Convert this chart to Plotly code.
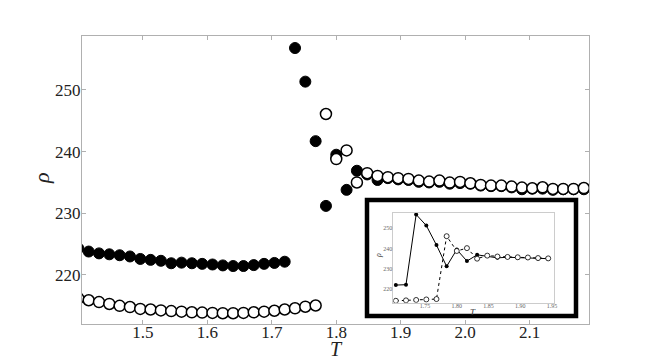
import plotly.graph_objects as go

# Temperature grid
T = [1.400, 1.416, 1.432, 1.448, 1.464, 1.480, 1.496, 1.512, 1.528, 1.544,
     1.560, 1.576, 1.592, 1.608, 1.624, 1.640, 1.656, 1.672, 1.688, 1.704,
     1.720, 1.736, 1.752, 1.768, 1.784, 1.800, 1.816, 1.832, 1.848, 1.864,
     1.880, 1.896, 1.912, 1.928, 1.944, 1.960, 1.976, 1.992, 2.008, 2.024,
     2.040, 2.056, 2.072, 2.088, 2.104, 2.120, 2.136, 2.152, 2.168, 2.184]

rho_filled = [224.3, 223.8, 223.5, 223.35, 223.2, 223.0, 222.6, 222.45, 222.3, 221.9,
              222.0, 221.9, 221.8, 221.7, 221.55, 221.45, 221.45, 221.6, 221.8, 221.95,
              222.15, 256.8, 251.35, 241.7, 231.2, 239.5, 233.8, 236.9, 236.3, 235.4,
              235.7, 235.5, 235.4, 235.1, 235.0, 235.1, 234.8, 234.9, 234.8, 234.5,
              234.4, 234.4, 234.2, 233.9, 234.0, 234.0, 233.8, 233.9, 233.9, 233.9]

rho_open = [216.2, 215.9, 215.6, 215.3, 215.0, 214.8, 214.5, 214.4, 214.25, 214.15,
            214.05, 213.95, 213.9, 213.85, 213.8, 213.8, 213.85, 213.95, 214.05, 214.2,
            214.4, 214.6, 214.85, 215.05, 246.1, 238.8, 240.2, 235.0, 236.5, 236.06,
            235.85, 235.69, 235.58, 235.3, 235.14, 235.3, 234.98, 235.09, 234.87, 234.6,
            234.49, 234.49, 234.33, 234.17, 234.06, 234.22, 233.95, 233.95, 233.95, 234.1]

main_xticks = [1.5, 1.6, 1.7, 1.8, 1.9, 2.0, 2.1]
main_yticks = [220, 230, 240, 250]
inset_xticks = [1.75, 1.80, 1.85, 1.90, 1.95]
inset_yticks = [220, 230, 240, 250]
inset_start, inset_end = 19, 35

W, H = 654, 361
ml, mr, mt, mb = 82, 65, 36, 37
pw, ph = W - ml - mr, H - mt - mb

def px(x):
    return (x - ml) / pw

def py(y):
    return (H - mb - y) / ph

fig = go.Figure()

fig.add_trace(go.Scatter(x=T, y=rho_filled, mode="markers",
                         marker=dict(size=11, color="black", line=dict(color="black", width=1)),
                         showlegend=False))
fig.add_trace(go.Scatter(x=T, y=rho_open, mode="markers",
                         marker=dict(size=11, color="white", line=dict(color="black", width=1.5)),
                         showlegend=False))

# inset
fig.add_trace(go.Scatter(x=T[inset_start:inset_end], y=rho_filled[inset_start:inset_end],
                         mode="lines+markers", xaxis="x2", yaxis="y2",
                         line=dict(color="black", width=1),
                         marker=dict(size=4, color="black"), showlegend=False))
fig.add_trace(go.Scatter(x=T[inset_start:inset_end], y=rho_open[inset_start:inset_end],
                         mode="lines+markers", xaxis="x2", yaxis="y2",
                         line=dict(color="black", width=1, dash="dot"),
                         marker=dict(size=5, color="white", line=dict(color="black", width=0.8)),
                         showlegend=False))

serif = "Liberation Serif"
axis_common = dict(showgrid=False, zeroline=False, showline=True, mirror="ticks",
                   linecolor="#b0b0b0", linewidth=1, ticks="inside", ticklen=4,
                   tickcolor="#b0b0b0", automargin=False,
                   tickfont=dict(family=serif, size=17, color="#222"))

fig.update_layout(
    width=W, height=H,
    margin=dict(l=ml, r=mr, t=mt, b=mb),
    paper_bgcolor="white", plot_bgcolor="white",
    xaxis=dict(range=[1.4056, 2.192], tickvals=main_xticks,
               ticktext=[f"{v:.1f}" for v in main_xticks], ticklabelstandoff=-7,
               **axis_common),
    yaxis=dict(range=[212.05, 258.75], tickvals=main_yticks, ticklabelstandoff=-3,
               **axis_common),
    xaxis2=dict(domain=[px(393.3), px(554.3)], anchor="y2", range=[1.700, 1.9536],
                tickvals=inset_xticks, ticktext=[f"{v:.2f}" for v in inset_xticks],
                showgrid=False, zeroline=False, showline=True, mirror=True,
                linecolor="#cccccc", linewidth=0.8, ticks="", automargin=False,
                ticklabelstandoff=-3,
                tickfont=dict(family=serif, size=6, color="#666")),
    yaxis2=dict(domain=[py(302.7), py(212.5)], anchor="x2", range=[213.25, 257.8],
                tickvals=inset_yticks, automargin=False, ticklabelstandoff=-1,
                showgrid=False, zeroline=False, showline=True, mirror=True,
                linecolor="#cccccc", linewidth=0.8, ticks="",
                tickfont=dict(family=serif, size=6, color="#666")),
    shapes=[dict(type="rect", xref="paper", yref="paper",
                 x0=px(367), x1=px(576), y0=py(316), y1=py(200),
                 line=dict(color="black", width=4.5), layer="above")],
    annotations=[
        dict(text="<i>T</i>", xref="paper", yref="paper", x=px(336), y=py(361),
             showarrow=False, font=dict(family=serif, size=20, color="#222"),
             xanchor="center", yanchor="bottom", borderpad=0),
        dict(text="<i>ρ</i>", xref="paper", yref="paper", x=px(41), y=py(178),
             showarrow=False, textangle=-90, font=dict(family=serif, size=22, color="#222"),
             xanchor="center", yanchor="middle"),
        dict(text="<i>T</i>", xref="paper", yref="paper", x=px(473), y=py(312),
             showarrow=False, font=dict(family=serif, size=9, color="#333"),
             xanchor="center", yanchor="middle"),
        dict(text="<i>ρ</i>", xref="paper", yref="paper", x=px(378), y=py(256),
             showarrow=False, textangle=-90, font=dict(family=serif, size=8, color="#333"),
             xanchor="center", yanchor="middle"),
    ],
)

fig.write_html("out.html")
